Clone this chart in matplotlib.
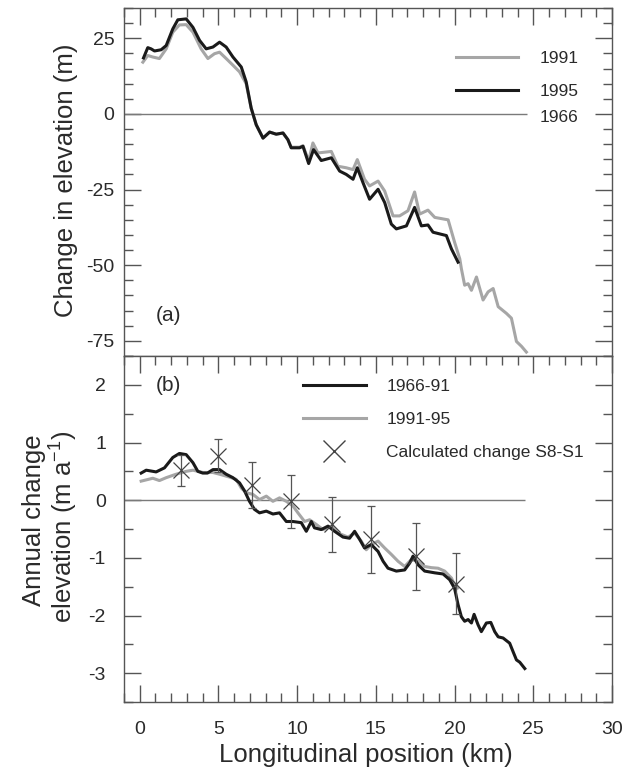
import matplotlib
matplotlib.use('Agg')
import matplotlib.pyplot as plt
from matplotlib.lines import Line2D
from matplotlib.ticker import MultipleLocator

plt.rcParams['font.family'] = ['Liberation Sans', 'DejaVu Sans']
plt.rcParams['mathtext.default'] = 'regular'
plt.rcParams['axes.unicode_minus'] = False

# (a) change in elevation relative to 1966 (m)
x_1995 = [0.24, 0.51, 0.72, 0.94, 1.36, 1.68, 2.1, 2.42, 2.95, 3.38, 3.8, 4.22, 4.65, 5.07,
          5.49, 5.92, 6.45, 6.76, 7.08, 7.4, 7.83, 8.25, 8.67, 9.1, 9.41, 9.62, 10.15, 10.37,
          10.73, 11.04, 11.53, 12.17, 12.7, 13.12, 13.55, 13.82, 14.18, 14.6, 15.14, 15.56,
          15.98, 16.3, 16.94, 17.46, 17.89, 18.31, 18.63, 19.48, 19.8, 20.22]
y_1995 = [18.5, 21.9, 21.5, 20.8, 21.2, 22.6, 28.1, 31.1, 31.4, 28.6, 24.3, 21.5, 22.1, 23.7,
          22.1, 18.8, 15.5, 10.6, 1.9, -3.6, -8.0, -6.0, -6.7, -6.3, -8.5, -11.2, -11.2, -10.7,
          -16.4, -11.8, -15.4, -14.5, -18.9, -20.0, -21.6, -17.8, -22.7, -28.2, -24.9, -29.3,
          -36.4, -38.0, -37.0, -30.9, -37.0, -36.7, -39.1, -40.2, -44.6, -49.0]

x_1991 = [0.2, 0.51, 0.83, 1.25, 1.68, 2.1, 2.52, 2.95, 3.38, 3.9, 4.33, 4.75, 5.07, 5.49,
          5.92, 6.34, 6.76, 7.08, 7.4, 7.83, 8.25, 8.67, 9.1, 9.41, 9.62, 10.15, 10.37, 10.73,
          11.0, 11.32, 12.17, 12.59, 13.12, 13.55, 13.82, 14.28, 14.6, 15.14, 15.56, 16.09,
          16.51, 17.04, 17.46, 17.78, 18.31, 18.74, 19.37, 19.59, 20.0, 20.33, 20.43, 20.64,
          20.86, 21.07, 21.39, 21.81, 22.13, 22.45, 22.77, 23.29, 23.61, 23.93, 24.25, 24.56]
y_1991 = [17.1, 19.3, 18.8, 18.3, 21.5, 27.0, 29.4, 29.5, 27.0, 21.5, 18.3, 19.9, 20.4, 18.3,
          16.1, 13.9, 10.0, 1.9, -3.6, -8.0, -6.0, -6.7, -6.3, -8.5, -11.0, -11.0, -10.5, -15.5,
          -9.6, -12.9, -12.4, -17.3, -17.8, -18.4, -15.1, -21.6, -23.8, -22.2, -25.5, -33.7,
          -33.7, -32.0, -25.8, -33.1, -31.8, -34.2, -34.8, -35.0, -42.4, -47.9, -51.1, -56.6,
          -56.1, -58.3, -53.9, -61.5, -58.8, -57.7, -63.7, -65.9, -67.5, -75.2, -76.8, -78.7]

# (b) annual change in elevation (m/a)
x_6691 = [0.09, 0.41, 1.04, 1.57, 2.1, 2.52, 2.95, 3.38, 3.69, 4.0, 4.3, 4.65, 5.07, 5.49,
          5.92, 6.34, 6.66, 6.97, 7.29, 7.61, 8.04, 8.46, 8.88, 9.31, 9.73, 10.26, 10.58, 10.9,
          11.1, 11.53, 11.96, 12.38, 12.91, 13.33, 13.65, 13.97, 14.28, 14.71, 15.14, 15.46,
          15.77, 16.3, 16.83, 17.15, 17.36, 17.68, 18.1, 18.74, 19.27, 19.69, 20.0, 20.22,
          20.43, 20.64, 20.86, 21.07, 21.24, 21.49, 21.7, 22.02, 22.3, 22.55, 22.77, 23.08,
          23.5, 23.72, 23.93, 24.14, 24.46]
y_6691 = [0.47, 0.52, 0.49, 0.56, 0.74, 0.81, 0.79, 0.65, 0.50, 0.47, 0.47, 0.53, 0.53, 0.45,
          0.39, 0.30, 0.16, -0.02, -0.16, -0.22, -0.19, -0.24, -0.22, -0.37, -0.37, -0.39,
          -0.54, -0.37, -0.48, -0.51, -0.45, -0.54, -0.64, -0.66, -0.54, -0.68, -0.83, -0.77,
          -0.89, -1.06, -1.18, -1.23, -1.21, -1.09, -0.97, -1.12, -1.23, -1.26, -1.28, -1.38,
          -1.53, -1.81, -2.02, -2.10, -2.07, -2.13, -1.98, -2.16, -2.28, -2.13, -2.12, -2.28,
          -2.37, -2.39, -2.48, -2.63, -2.77, -2.81, -2.92]

x_9195 = [0.09, 0.83, 1.25, 1.68, 2.31, 2.95, 3.38, 4.01, 4.65, 5.07, 5.7, 6.13, 6.45, 6.76,
          7.19, 7.61, 8.04, 8.46, 8.88, 9.31, 9.73, 10.05, 10.47, 10.79, 11.21, 11.64, 12.17,
          12.59, 13.23, 13.65, 14.07, 14.39, 14.71, 15.14, 15.56, 15.98, 16.41, 16.83, 17.25,
          17.68, 18.1, 18.52, 18.95, 19.37, 19.8, 20.0, 20.2]
y_9195 = [0.33, 0.38, 0.34, 0.39, 0.45, 0.50, 0.52, 0.48, 0.48, 0.45, 0.40, 0.36, 0.21, 0.13,
          0.10, 0.01, 0.07, -0.02, 0.04, -0.02, -0.10, -0.22, -0.37, -0.34, -0.42, -0.51, -0.45,
          -0.57, -0.64, -0.57, -0.71, -0.86, -0.77, -0.71, -0.83, -0.94, -1.06, -1.15, -1.03,
          -1.06, -1.15, -1.17, -1.18, -1.23, -1.35, -1.47, -1.52]

# calculated change S8-S1 with error bars
x_calc = [2.63, 4.96, 7.15, 9.6, 12.21, 14.67, 17.57, 20.12]
y_calc = [0.52, 0.77, 0.27, -0.02, -0.42, -0.68, -0.97, -1.45]
e_calc = [0.27, 0.29, 0.40, 0.46, 0.48, 0.58, 0.58, 0.53]

zero_end = 24.6
black = '#1a1a1a'
grey = '#a6a6a6'
axcol = '#555555'
txt = '#2a2a2a'

fig = plt.figure(figsize=(6.3, 7.72), dpi=100)
ax1 = fig.add_axes([124/630, 1-356/772, 488/630, 348/772])
ax2 = fig.add_axes([124/630, 1-702/772, 488/630, 346/772])

# panel a
ax1.hlines(0, -1, zero_end, color='#7a7a7a', lw=1)
ax1.plot(x_1991, y_1991, color=grey, lw=2.2)
ax1.plot(x_1995, y_1995, color=black, lw=2.2)
ax1.set_xlim(-1, 30)
ax1.set_ylim(-80, 35)
ax1.set_yticks([-75, -50, -25, 0, 25])
ax1.yaxis.set_minor_locator(MultipleLocator(5))
ax1.xaxis.set_major_locator(MultipleLocator(5))
ax1.xaxis.set_minor_locator(MultipleLocator(1))
ax1.tick_params(which='both', direction='in', top=True, bottom=False, left=True, right=True,
                labelbottom=False, color=axcol, width=1)
ax1.tick_params(which='major', length=12.5)
ax1.tick_params(which='minor', length=6.5)
ax1.tick_params(axis='y', labelsize=14, labelcolor=txt, pad=7)
ax1.text(1.0, -66.6, '(a)', fontsize=15, color=txt, va='center')
ax1.text(25.4, -1.3, '1966', fontsize=12.5, color=txt, va='center')
h1 = [Line2D([], [], color=grey, lw=2.2), Line2D([], [], color=black, lw=2.2)]
ax1.legend(h1, ['1991', '1995'], loc='upper left', bbox_to_anchor=(0.68, 0.876),
           frameon=False, fontsize=12.5, handlelength=3.6, handletextpad=1.2,
           labelspacing=1.0, borderpad=0, borderaxespad=0, labelcolor=txt)

# panel b
ax2.hlines(0, -1, zero_end - 0.1, color='#7a7a7a', lw=1)
ax2.plot(x_9195, y_9195, color=grey, lw=2.2)
ax2.plot(x_6691, y_6691, color=black, lw=2.2)
ax2.errorbar(x_calc, y_calc, yerr=e_calc, fmt='none', ecolor='#555555', elinewidth=0.9,
             capsize=3, capthick=0.9)
ax2.plot(x_calc, y_calc, ls='none', marker='x', ms=11, mew=0.9, color='#444444')
ax2.set_xlim(-1, 30)
ax2.set_ylim(-3.5, 2.5)
ax2.set_yticks([-3, -2, -1, 0, 1, 2])
ax2.yaxis.set_minor_locator(MultipleLocator(0.5))
ax2.xaxis.set_major_locator(MultipleLocator(5))
ax2.xaxis.set_minor_locator(MultipleLocator(1))
ax2.tick_params(which='both', direction='in', top=True, bottom=True, left=True, right=True,
                color=axcol, width=1)
ax2.tick_params(which='major', length=12.5)
ax2.tick_params(which='minor', length=6.5)
ax2.tick_params(axis='y', labelsize=14, labelcolor=txt, pad=13)
ax2.tick_params(axis='x', labelsize=14, labelcolor=txt, pad=14)
ax2.text(1.0, 1.98, '(b)', fontsize=15, color=txt, va='center')
h2 = [Line2D([], [], color=black, lw=2.2), Line2D([], [], color=grey, lw=2.2),
      Line2D([], [], ls='none', marker='x', ms=16, mew=1, color='#444444')]
ax2.legend(h2, ['1966-91', '1991-95', 'Calculated change S8-S1'], loc='upper left',
           bbox_to_anchor=(0.367, 0.933), frameon=False, fontsize=12.5, handlelength=3.6,
           handletextpad=1.2, labelspacing=1.02, borderpad=0, borderaxespad=0,
           labelcolor=txt)

for ax in (ax1, ax2):
    for s in ax.spines.values():
        s.set_color(axcol)
        s.set_linewidth(1)

fig.text(66/630, 1-180/772, 'Change in elevation (m)', rotation=90, fontsize=18.5,
         color=txt, ha='center', va='center')
fig.text(34/630, 1-520/772, 'Annual change', rotation=90, fontsize=18.5,
         color=txt, ha='center', va='center')
fig.text(64/630, 1-527/772, 'elevation (m a$^{-1}$)', rotation=90, fontsize=18.5,
         color=txt, ha='center', va='center')
fig.text(366/630, 1-755/772, 'Longitudinal position (km)', fontsize=18.5,
         color=txt, ha='center', va='center')

fig.savefig('out.png', dpi=100)
